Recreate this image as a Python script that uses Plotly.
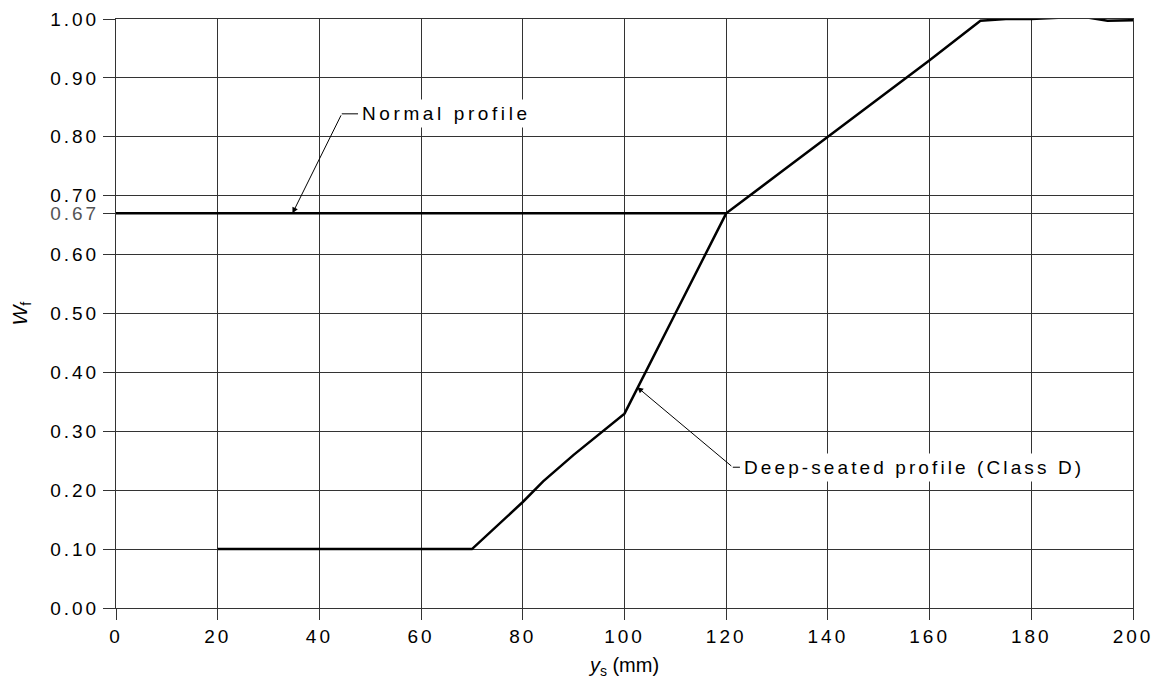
import plotly.graph_objects as go

# ---- data ----
deep_x = [20, 70, 80, 84, 90, 100, 110, 120, 130, 140, 150, 160, 170, 175, 180, 190, 195, 200]
deep_y = [0.10, 0.10, 0.18, 0.215, 0.26, 0.33, 0.50, 0.67, 0.735, 0.80, 0.865, 0.93, 0.997, 1.0, 1.0, 1.004, 0.997, 0.998]
normal_x = [0, 120]
normal_y = [0.67, 0.67]

x_ticks = [0, 20, 40, 60, 80, 100, 120, 140, 160, 180, 200]
y_ticks = [0.0, 0.1, 0.2, 0.3, 0.4, 0.5, 0.6, 0.67, 0.7, 0.8, 0.9, 1.0]
y_labels = ["0.00", "0.10", "0.20", "0.30", "0.40", "0.50", "0.60", "0.67", "0.70", "0.80", "0.90", "1.00"]

FONT = "Liberation Sans, Arial, sans-serif"


def sp(t, extra="", ls=3):
    return f'<span style="letter-spacing:{ls}px;{extra}">{t}</span>'


fig = go.Figure()
fig.add_trace(go.Scatter(x=deep_x, y=deep_y, mode="lines",
                         line=dict(color="black", width=2.5), showlegend=False))
fig.add_trace(go.Scatter(x=normal_x, y=normal_y, mode="lines",
                         line=dict(color="black", width=2.5), showlegend=False))

# leader lines / labels
fig.add_annotation(x=34.7, y=0.67, ax=44.4, ay=0.839, axref="x", ayref="y",
                   xref="x", yref="y", text="", showarrow=True,
                   arrowhead=2, arrowsize=1.2, arrowwidth=1, arrowcolor="black")
fig.add_shape(type="line", x0=44.4, y0=0.839, x1=47.6, y1=0.839,
              line=dict(color="black", width=1))
fig.add_annotation(x=47.6, y=0.839, xref="x", yref="y", text=sp("Normal profile", ls=3.6),
                   showarrow=False, xanchor="left", yanchor="middle",
                   bgcolor="white", borderpad=3,
                   font=dict(family=FONT, size=19, color="black"))

fig.add_annotation(x=102.5, y=0.375, ax=121.3, ay=0.239, axref="x", ayref="y",
                   xref="x", yref="y", text="", showarrow=True,
                   arrowhead=2, arrowsize=1.2, arrowwidth=1, arrowcolor="black")
fig.add_shape(type="line", x0=121.3, y0=0.239, x1=122.7, y1=0.239,
              line=dict(color="black", width=1))
fig.add_annotation(x=122.7, y=0.239, xref="x", yref="y",
                   text=sp("Deep-seated profile (Class D)", ls=3.1),
                   showarrow=False, xanchor="left", yanchor="middle",
                   bgcolor="white", borderpad=3,
                   font=dict(family=FONT, size=19, color="black"))

ytext = [sp(l, "color:#555" if l == "0.67" else "") for l in y_labels]
xtext = [sp(str(v)) for v in x_ticks]

fig.update_layout(
    width=1170, height=697,
    margin=dict(l=108, r=45, t=11, b=97, autoexpand=False),
    paper_bgcolor="white", plot_bgcolor="white",
    font=dict(family=FONT, size=19, color="black"),
    xaxis=dict(range=[0, 200], tickvals=x_ticks, ticktext=xtext, automargin=False,
               showgrid=True, gridcolor="#333", gridwidth=1,
               zeroline=False, showline=True, linecolor="#333", linewidth=1, mirror=True,
               ticks="outside", ticklen=11, tickcolor="#333",
               title=dict(text='<i>y</i><sub>s</sub> (mm)', standoff=12,
                          font=dict(family=FONT, size=20))),
    yaxis=dict(range=[0, 1.0], tickvals=y_ticks, ticktext=ytext, automargin=False,
               showgrid=True, gridcolor="#333", gridwidth=1,
               zeroline=False, showline=True, linecolor="#333", linewidth=1, mirror=True,
               ticks="outside", ticklen=12, tickcolor="#333",
               title=dict(text='<i>W</i><sub>f</sub>', standoff=30,
                          font=dict(family=FONT, size=21))),
)

fig.write_html("out.html")
